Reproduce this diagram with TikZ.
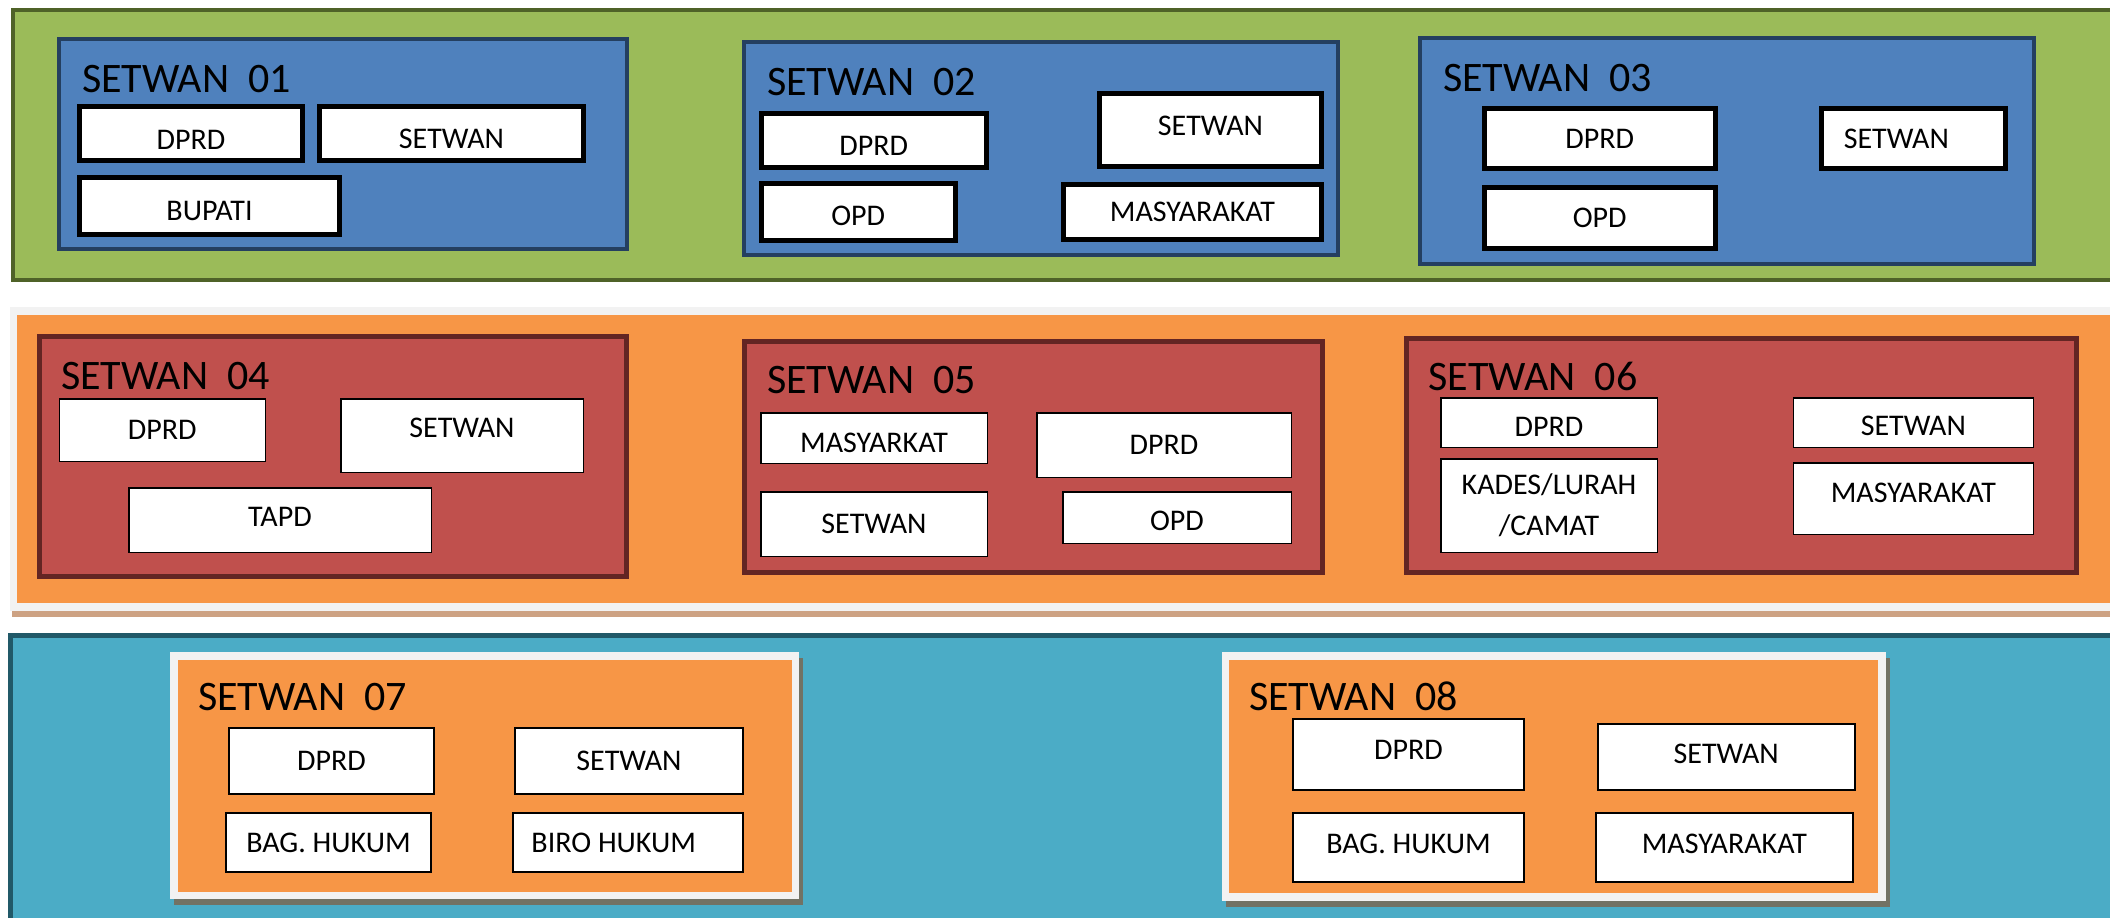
\documentclass[tikz,border=0pt]{standalone}
\usepackage{fontspec}
\setmainfont{Carlito}
\usetikzlibrary{shadows}

\definecolor{bandgreen}{HTML}{9BBB59}
\definecolor{greenline}{HTML}{4F6228}
\definecolor{boxblue}{HTML}{4F81BD}
\definecolor{blueline}{HTML}{243F60}
\definecolor{bandorange}{HTML}{F79646}
\definecolor{framegray}{HTML}{F2F2F2}
\definecolor{bandtan}{HTML}{CDA283}
\definecolor{boxred}{HTML}{C0504D}
\definecolor{redline}{HTML}{632523}
\definecolor{bandteal}{HTML}{4BACC6}
\definecolor{tealline}{HTML}{215968}
\definecolor{cardshadow}{HTML}{727264}

\newcommand{\ttlfont}{\fontsize{42}{50}\selectfont}
\newcommand{\unitfont}{\fontsize{30}{41}\selectfont}

\begin{document}
\begin{tikzpicture}[x=1pt,y=-1pt,
    unit/.style={draw=black,fill=white,font=\unitfont,inner sep=2pt},
    thickunit/.style={unit,line width=5pt},
    thinunit/.style={unit,line width=1.5pt},
    midunit/.style={unit,line width=2pt},
    sz/.style 2 args={minimum width=#1pt,minimum height=#2pt},
    bluegrp/.style={draw=blueline,fill=boxblue,line width=4pt},
    redgrp/.style={draw=redline,fill=boxred,line width=5pt},
    card/.style={fill=framegray,draw=none,
      drop shadow={opacity=1,fill=cardshadow,shadow xshift=3.5pt,shadow yshift=-5.5pt}},
    ttl/.style={anchor=base west,inner sep=0pt,font=\ttlfont}]

  \useasboundingbox (0,0) rectangle (2110,918);

  % Bands
  \draw[draw=greenline,fill=bandgreen,line width=4pt] (12.5,9.5) rectangle (2130,280);
  \fill[bandtan] (12,313) rectangle (2130,617);
  \fill[framegray] (10,307) rectangle (2130,611);
  \fill[bandorange] (17,315) rectangle (2130,603);
  \draw[draw=tealline,fill=bandteal,line width=5pt] (10.5,635.5) rectangle (2130,940);

  % SETWAN 01
  \node[bluegrp,sz={568}{210}] (s01) at (343,144) {};
  \node[ttl] (t01) at (82,92) {SETWAN\ \ 01};
  \node[thickunit,sz={223}{54},text height=31pt] (d01) at (191,133.5) {DPRD};
  \node[thickunit,sz={264}{54},text height=31pt] (w01) at (451.5,133.5) {SETWAN};
  \node[thickunit,sz={260}{57},text height=29pt] (b01) at (209.5,206) {BUPATI};

  % SETWAN 02
  \node[bluegrp,sz={594.5}{213}] (s02) at (1040.75,148.5) {};
  \node[ttl] (t02) at (767,95) {SETWAN\ \ 02};
  \node[thickunit,sz={225.5}{54},text height=30pt] (d02) at (873.75,140.5) {DPRD};
  \node[thickunit,sz={194.5}{57},text height=27pt] (o02) at (858.25,212) {OPD};
  \node[thickunit,sz={222}{73},text depth=8pt] (w02) at (1210.5,130) {SETWAN};
  \node[thickunit,sz={258}{55}] (m02) at (1192.5,212) {MASYARAKAT};

  % SETWAN 03
  \node[bluegrp,sz={614}{226}] (s03) at (1727,151) {};
  \node[ttl] (t03) at (1443,91) {SETWAN\ \ 03};
  \node[thickunit,sz={231.5}{60}] (d03) at (1599.75,138.5) {DPRD};
  \node[thickunit,sz={231.5}{61}] (o03) at (1599.75,218) {OPD};
  \node[thickunit,sz={183.6}{60}] (w03) at (1913.3,138.5) {SETWAN\hspace*{34pt}};

  % SETWAN 04
  \node[redgrp,sz={587}{240}] (s04) at (333,456.5) {};
  \node[ttl] (t04) at (61,389) {SETWAN\ \ 04};
  \node[thinunit,sz={206}{62.5}] (d04) at (162.25,430) {DPRD};
  \node[thinunit,sz={242.5}{73.5},text depth=16pt] (w04) at (462,435.5) {SETWAN};
  \node[thinunit,sz={302.5}{64.5},text depth=7pt] (p04) at (280,520) {TAPD};

  % SETWAN 05
  \node[redgrp,sz={578.5}{231}] (s05) at (1033.25,457) {};
  \node[ttl] (t05) at (767,393) {SETWAN\ \ 05};
  \node[thinunit,sz={226.5}{50.5},text height=29pt] (m05) at (874,438) {MASYARKAT};
  \node[thinunit,sz={254.5}{64.5}] (d05) at (1164,445) {DPRD};
  \node[thinunit,sz={226.5}{64.5}] (w05) at (874,524) {SETWAN};
  \node[thinunit,sz={228.5}{51.5},text height=27pt] (o05) at (1177,517.5) {OPD};

  % SETWAN 06
  \node[redgrp,sz={670.4}{234}] (s06) at (1741.3,455.5) {};
  \node[ttl] (t06) at (1428.5,390) {SETWAN\ \ 06};
  \node[thinunit,sz={216.5}{49.5},text height=27pt] (d06) at (1549,422.5) {DPRD};
  \node[thinunit,sz={216.5}{93.5},align=center] (k06) at (1549,505.5) {KADES/LURAH\\/CAMAT};
  \node[thinunit,sz={240}{49.5},text height=27pt] (w06) at (1913.3,422.5) {SETWAN};
  \node[thinunit,sz={240}{71.5},text depth=11pt] (m06) at (1913.3,498.5) {MASYARAKAT};

  % SETWAN 07
  \node[card,sz={629}{247}] (c07) at (484.5,775.5) {};
  \fill[bandorange] ([shift={(8.5pt,-8pt)}]c07.north west) rectangle ([shift={(-7pt,7pt)}]c07.south east);
  \node[ttl] (t07) at (198,710) {SETWAN\ \ 07};
  \node[midunit,sz={205}{66}] (d07) at (331.5,761) {DPRD};
  \node[midunit,sz={228}{66}] (w07) at (629,761) {SETWAN};
  \node[midunit,sz={205}{59}] (g07) at (328.5,842.5) {BAG. HUKUM};
  \node[midunit,sz={230.5}{59}] (h07) at (627.75,842.5) {BIRO HUKUM\hspace*{28pt}};

  % SETWAN 08
  \node[card,sz={664}{249}] (c08) at (1554,776.5) {};
  \fill[bandorange] ([shift={(7.5pt,-8pt)}]c08.north west) rectangle ([shift={(-8pt,8pt)}]c08.south east);
  \node[ttl] (t08) at (1249,710) {SETWAN\ \ 08};
  \node[midunit,sz={231}{71},text depth=9pt] (d08) at (1408.5,754.5) {DPRD};
  \node[midunit,sz={256.5}{66},text depth=6pt] (w08) at (1726.25,757) {SETWAN};
  \node[midunit,sz={231}{69},text depth=7pt] (g08) at (1408.5,847.5) {BAG. HUKUM};
  \node[midunit,sz={256.6}{69},text depth=7pt] (m08) at (1724.3,847.5) {MASYARAKAT};

\end{tikzpicture}
\end{document}
